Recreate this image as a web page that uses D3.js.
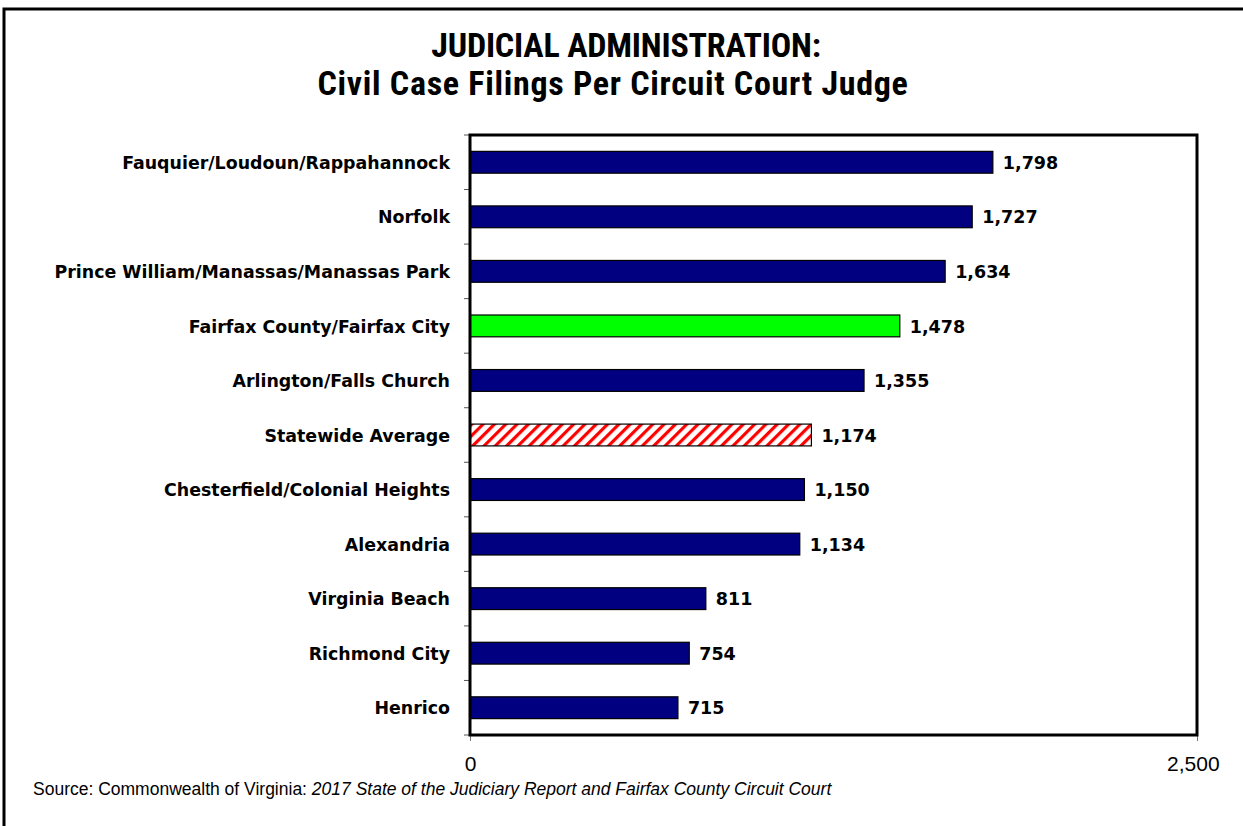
<!DOCTYPE html>
<html>
<head>
<meta charset="utf-8">
<script src="https://cdn.jsdelivr.net/npm/d3@7"></script>
<style>
  body { margin: 0; background: #fff; }
  svg { display: block; }
</style>
</head>
<body>
<svg id="chart" width="1243" height="826"></svg>
<script>
const courts = [
  "Fauquier/Loudoun/Rappahannock",
  "Norfolk",
  "Prince William/Manassas/Manassas Park",
  "Fairfax County/Fairfax City",
  "Arlington/Falls Church",
  "Statewide Average",
  "Chesterfield/Colonial Heights",
  "Alexandria",
  "Virginia Beach",
  "Richmond City",
  "Henrico"
];
const filings = [1798, 1727, 1634, 1478, 1355, 1174, 1150, 1134, 811, 754, 715];
const xTicks = [0, 2500];

const data = courts.map((c, i) => ({ name: c, value: filings[i] }));

const svg = d3.select('#chart');

// outer frame (runs off the right and bottom edges)
svg.append('rect')
  .attr('x', 4).attr('y', 9)
  .attr('width', 1300).attr('height', 900)
  .attr('fill', 'none').attr('stroke', '#000').attr('stroke-width', 3);

const defs = svg.append('defs');
const pat = defs.append('pattern')
  .attr('id', 'hatch')
  .attr('patternUnits', 'userSpaceOnUse')
  .attr('width', 8).attr('height', 8)
  .attr('patternTransform', 'rotate(45)');
pat.append('rect').attr('width', 8).attr('height', 8).attr('fill', '#fff');
pat.append('rect').attr('x', 0).attr('width', 3.2).attr('height', 8).attr('fill', '#ff0000');

// title
const title = svg.append('text')
  .attr('text-anchor', 'middle')
  .attr('font-family', '"Liberation Sans Narrow", "Roboto Condensed", sans-serif')
  .attr('font-weight', 'bold')
  .attr('font-size', '34px')
  .attr('fill', '#000');
title.append('tspan').attr('x', 626).attr('y', 57).attr('letter-spacing', '-0.2px').text('JUDICIAL ADMINISTRATION:');
title.append('tspan').attr('x', 613).attr('y', 95).attr('letter-spacing', '0.7px').text('Civil Case Filings Per Circuit Court Judge');

const plot = { left: 470, right: 1197, top: 135, bottom: 735 };

const x = d3.scaleLinear().domain([0, 2500]).range([plot.left, plot.right]);
const y = d3.scaleBand().domain(courts).range([plot.top, plot.bottom]).paddingInner(0.6).paddingOuter(0.3);

function barFill(d) {
  if (d.name === 'Fairfax County/Fairfax City') return '#00ff00';
  if (d.name === 'Statewide Average') return 'url(#hatch)';
  return '#000080';
}

svg.append('g').selectAll('rect')
  .data(data).enter().append('rect')
  .attr('x', x(0))
  .attr('y', d => y(d.name))
  .attr('width', d => x(d.value) - x(0))
  .attr('height', y.bandwidth())
  .attr('fill', barFill)
  .attr('stroke', '#000')
  .attr('stroke-width', 1.2);

// value labels
svg.append('g').selectAll('text')
  .data(data).enter().append('text')
  .attr('x', d => x(d.value) + 10)
  .attr('y', d => y(d.name) + y.bandwidth() / 2)
  .attr('dy', '0.38em')
  .attr('font-family', '"DejaVu Sans", Verdana, sans-serif')
  .attr('font-weight', 'bold')
  .attr('font-size', '17.5px')
  .attr('fill', '#000')
  .text(d => d3.format(',')(d.value));

// category labels
svg.append('g').selectAll('text')
  .data(data).enter().append('text')
  .attr('x', 450)
  .attr('y', d => y(d.name) + y.bandwidth() / 2)
  .attr('dy', '0.38em')
  .attr('text-anchor', 'end')
  .attr('font-family', '"DejaVu Sans", Verdana, sans-serif')
  .attr('font-weight', 'bold')
  .attr('font-size', '17.4px')
  .attr('fill', '#000')
  .text(d => d.name);

// left tick marks at category boundaries
const bounds = d3.range(courts.length + 1).map(i => plot.top + i * (plot.bottom - plot.top) / courts.length);
svg.append('g').selectAll('line')
  .data(bounds).enter().append('line')
  .attr('x1', plot.left - 6).attr('x2', plot.left)
  .attr('y1', d => d).attr('y2', d => d)
  .attr('stroke', '#555').attr('stroke-width', 1);

// bottom axis
const xAxis = d3.axisBottom(x).tickValues(xTicks).tickSize(6).tickFormat(d3.format(','));
const gx = svg.append('g')
  .attr('transform', `translate(0,${plot.bottom})`)
  .call(xAxis);
gx.select('.domain').remove();
gx.selectAll('line').attr('stroke', '#777');
gx.selectAll('text')
  .attr('y', 21)
  .attr('font-family', '"Liberation Sans Narrow", sans-serif')
  .attr('font-size', '21px')
  .attr('fill', '#000');
gx.selectAll('.tick').filter(d => d === 2500).select('text').attr('dx', '-0.2em');

// plot frame
svg.append('rect')
  .attr('x', plot.left).attr('y', plot.top)
  .attr('width', plot.right - plot.left).attr('height', plot.bottom - plot.top)
  .attr('fill', 'none').attr('stroke', '#000').attr('stroke-width', 3);

// source
const src = svg.append('text')
  .attr('x', 33).attr('y', 795)
  .attr('font-family', '"Liberation Sans", Arial, sans-serif')
  .attr('font-size', '17.5px')
  .attr('fill', '#000');
src.append('tspan').text('Source: Commonwealth of Virginia: ');
src.append('tspan').attr('font-style', 'italic').text('2017 State of the Judiciary Report and Fairfax County Circuit Court');
</script>
</body>
</html>
